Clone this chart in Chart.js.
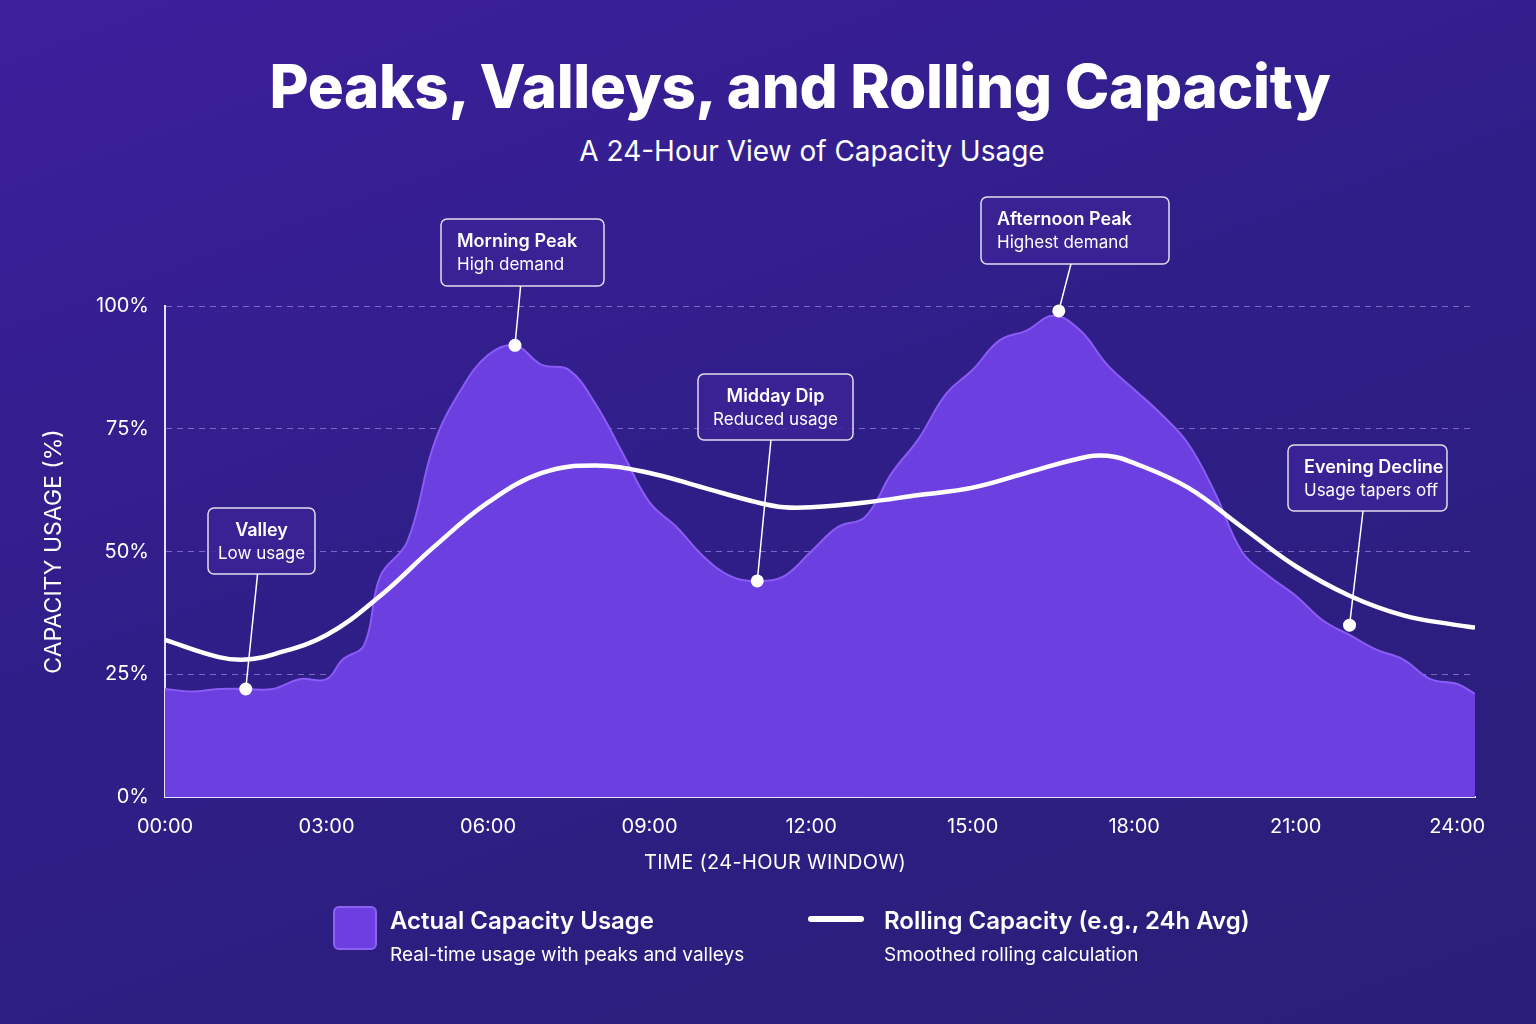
<!DOCTYPE html>
<html><head><meta charset="utf-8">
<script src="https://cdn.jsdelivr.net/npm/chart.js@4.4.1/dist/chart.umd.min.js"></script>
<style>
  html,body{margin:0;padding:0;}
  body{width:1536px;height:1024px;overflow:hidden;position:relative;font-family:Inter,"Noto Sans",sans-serif;color:#fff;
    background:linear-gradient(160deg,#3d1f9c 0%,#2f1e88 45%,#291f78 100%);}
  h1{position:absolute;top:50px;left:0;width:1600px;text-align:center;margin:0;font-size:60px;font-weight:800;letter-spacing:-0.3px;}
  .sub{position:absolute;top:134px;left:0;width:1624px;text-align:center;font-size:28px;font-weight:400;}
  .xt{position:absolute;top:850px;left:0;width:1550px;text-align:center;font-size:20px;letter-spacing:0.3px;}
  canvas{position:absolute;left:0;top:0;}
  .leg{position:absolute;top:906px;}
  .leg b{display:block;font-size:24px;font-weight:600;}
  .leg span{display:block;font-size:19px;margin-top:8px;}
</style></head>
<body>
<h1>Peaks, Valleys, and Rolling Capacity</h1>
<div class="sub">A 24-Hour View of Capacity Usage</div>
<canvas id="c" width="1536" height="1024"></canvas>
<div class="xt">TIME (24-HOUR WINDOW)</div>
<div class="leg" style="left:333px;width:44px;height:44px;background:#6d3fe0;border:2px solid #8b63f0;border-radius:6px;box-sizing:border-box"></div>
<div class="leg" style="left:390px;"><b>Actual Capacity Usage</b><span>Real-time usage with peaks and valleys</span></div>
<div class="leg" style="left:808px;top:916px;width:56px;height:6px;background:#fff;border-radius:3px"></div>
<div class="leg" style="left:884px;"><b>Rolling Capacity (e.g., 24h Avg)</b><span>Smoothed rolling calculation</span></div>
<script>
// hours of day
const actualHours = [0,0.5,1,1.5,2,2.5,3,3.3,3.7,4,4.5,5,5.5,6,6.5,7,7.5,8,8.5,9,9.5,10,10.5,11,11.5,12,12.5,13,13.5,14,14.5,15,15.5,16,16.5,17,17.5,18,18.5,19,19.5,20,20.5,21,21.5,22,22.5,23,23.5,24,24.33];
const actualUsage = [22,21.5,22,22,22,24,24,28,31,45,52,72,83,90,92,88,87,80,70,60,55,49,45,44,45,50,55,57,66,73,82,87,93,95,98,95,88,83,78,72,62,50,45,41,36,33,30,28,24,23,21];
const rollingHours = [0,1,1.5,2,3,4,5,6,7,8,9,10,11,11.5,12,13,14,15,16,17,17.5,18,19,20,21,22,23,24,24.33];
const rollingUsage = [32,28.5,28,29,33,41,51,60,66,67.5,66,63,60,59,59,60,61.5,63,66,69,69.5,68,63,55,47,41,37,35,34.5];
const xTicks = [0,3,6,9,12,15,18,21,24];
const yTicks = [0,25,50,75,100];
const notes = [
  {h:1.5, v:22, t:'Valley', s:'Low usage', box:[208,508,107,66], align:'center'},
  {h:6.5, v:92, t:'Morning Peak', s:'High demand', box:[441,219,163,67], align:'left'},
  {h:11, v:44, t:'Midday Dip', s:'Reduced usage', box:[698,374,155,66], align:'center'},
  {h:16.6, v:99, t:'Afternoon Peak', s:'Highest demand', box:[981,197,188,67], align:'left'},
  {h:22, v:35, t:'Evening Decline', s:'Usage tapers off', box:[1288,445,159,66], align:'left'}
];

const notePlugin = {
  id: 'notes',
  afterDraw(chart) {
    const {ctx, scales:{x, y}} = chart;
    ctx.save();
    notes.forEach(n => {
      const px = x.getPixelForValue(n.h), py = y.getPixelForValue(n.v);
      const [bx, by, bw, bh] = n.box;
      ctx.strokeStyle = '#fff'; ctx.lineWidth = 1.5;
      ctx.beginPath(); ctx.moveTo(bx + bw / 2 + (px - (bx + bw / 2)) * 0.25, by + bh); ctx.lineTo(px, py); ctx.stroke();
      ctx.beginPath(); ctx.roundRect(bx, by, bw, bh, 6);
      ctx.fillStyle = 'rgba(60,35,150,0.85)'; ctx.fill();
      ctx.strokeStyle = 'rgba(255,255,255,0.85)'; ctx.stroke();
      ctx.fillStyle = '#fff';
      ctx.textAlign = n.align; ctx.textBaseline = 'middle';
      const tx = n.align === 'center' ? bx + bw / 2 : bx + 16;
      ctx.font = '600 18px Inter, sans-serif'; ctx.fillText(n.t, tx, by + 23);
      ctx.font = '400 17px Inter, sans-serif'; ctx.fillText(n.s, tx, by + 46);
      ctx.beginPath(); ctx.arc(px, py, 6.5, 0, Math.PI * 2); ctx.fillStyle = '#fff'; ctx.fill();
    });
    ctx.restore();
  }
};

new Chart(document.getElementById('c'), {
  type: 'line',
  data: {
    datasets: [
      {
        label: 'Rolling Capacity',
        data: rollingHours.map((h, i) => ({x: h, y: rollingUsage[i]})),
        borderColor: '#ffffff', borderWidth: 4.5, pointRadius: 0, tension: 0.4, fill: false, order: 1
      },
      {
        label: 'Actual Capacity Usage',
        data: actualHours.map((h, i) => ({x: h, y: actualUsage[i]})),
        borderColor: '#8a5cf5', borderWidth: 2, backgroundColor: '#6c3fe0',
        pointRadius: 0, tension: 0.4, fill: 'origin', order: 2
      }
    ]
  },
  options: {
    responsive: false, animation: false,
    layout: { padding: { left: 36, right: 61, top: 306, bottom: 137 } },
    plugins: { legend: { display: false }, tooltip: { enabled: false } },
    scales: {
      x: {
        type: 'linear', min: 0, max: 24.33,
        afterBuildTicks: s => { s.ticks = xTicks.map(v => ({value: v})); },
        afterFit: s => { s.height = 90; },
        ticks: { color: '#fff', font: { size: 20, family: 'Inter' }, padding: 10,
                 callback: v => String(v).padStart(2, '0') + ':00' },
        grid: { display: false },
        border: { color: '#e8e0ff', width: 2 }
      },
      y: {
        min: 0, max: 100,
        afterBuildTicks: s => { s.ticks = yTicks.map(v => ({value: v})); },
        afterFit: s => { s.width = 129; },
        ticks: { color: '#fff', font: { size: 20, family: 'Inter' }, padding: 16, callback: v => v + '%' },
        grid: { color: ctx => ctx.tick.value === 0 ? 'rgba(0,0,0,0)' : 'rgba(190,160,255,0.55)', drawTicks: false },
        border: { color: '#e8e0ff', width: 2, dash: [6, 5] },
        title: { display: true, text: 'CAPACITY USAGE (%)', color: '#fff', font: { size: 23, family: 'Inter' } }
      }
    }
  },
  plugins: [notePlugin]
});
</script>
</body></html>
